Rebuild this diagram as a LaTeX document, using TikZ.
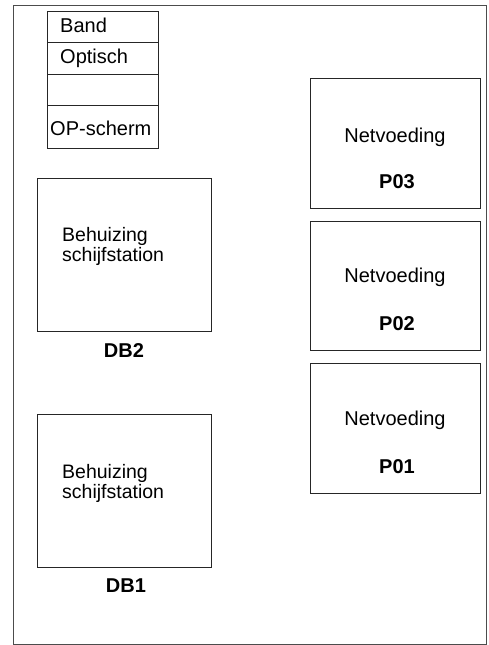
\documentclass[tikz,border=0pt]{standalone}
\usepackage{fontspec}
\setmainfont{Liberation Sans}
\begin{document}
\begin{tikzpicture}[x=1pt,y=-1pt,
  box/.style={draw=black!85,line width=0.9pt,inner sep=0,anchor=north west},
  frm/.style={draw=black!70,line width=1.2pt,inner sep=0,anchor=north west},
  txt/.style={inner sep=0,font=\fontsize{20}{24}\selectfont},
  beh/.style={inner sep=0,font=\fontsize{19.5}{22}\selectfont,anchor=base west},
  lbl/.style={inner sep=0,font=\fontsize{20}{24}\selectfont\bfseries,anchor=base}]
\useasboundingbox (0,0) rectangle (488,645);
\node[frm,minimum width=472.5,minimum height=639] (frame) at (13,5) {};
% stack
\node[box,minimum width=111,minimum height=31] (band) at (47,11) {};
\node[box,minimum width=111,minimum height=32] (opt) at (47,42) {};
\node[box,minimum width=111,minimum height=31] (empty) at (47,74) {};
\node[box,minimum width=111,minimum height=43] (ops) at (47,105) {};
\node[txt,anchor=base west] (tband) at (60,32) {Band};
\node[txt,anchor=base west] (topt) at (60,63) {Optisch};
\node[txt,anchor=base west] (tops) at (50,135) {OP-scherm};
% disk bays
\node[box,minimum width=174,minimum height=153] (db2) at (37,178) {};
\node[beh] (db2a) at (62,241) {Behuizing};
\node[beh] (db2b) at (62,261) {schijfstation};
\node[lbl] (db2l) at (124,357) {DB2};
\node[box,minimum width=174,minimum height=153] (db1) at (37,414) {};
\node[beh] (db1a) at (62,478) {Behuizing};
\node[beh] (db1b) at (62,498) {schijfstation};
\node[lbl] (db1l) at (126,592) {DB1};
% power supplies
\node[box,minimum width=170,minimum height=130] (p03) at (310,78) {};
\node[txt,anchor=base] (p03a) at (395,142) {Netvoeding};
\node[lbl] (p03l) at (397,188) {P03};
\node[box,minimum width=170,minimum height=129] (p02) at (310,221) {};
\node[txt,anchor=base] (p02a) at (395,282) {Netvoeding};
\node[lbl] (p02l) at (397,330) {P02};
\node[box,minimum width=170,minimum height=130] (p01) at (310,363) {};
\node[txt,anchor=base] (p01a) at (395,425) {Netvoeding};
\node[lbl] (p01l) at (397,473) {P01};
\end{tikzpicture}
\end{document}
